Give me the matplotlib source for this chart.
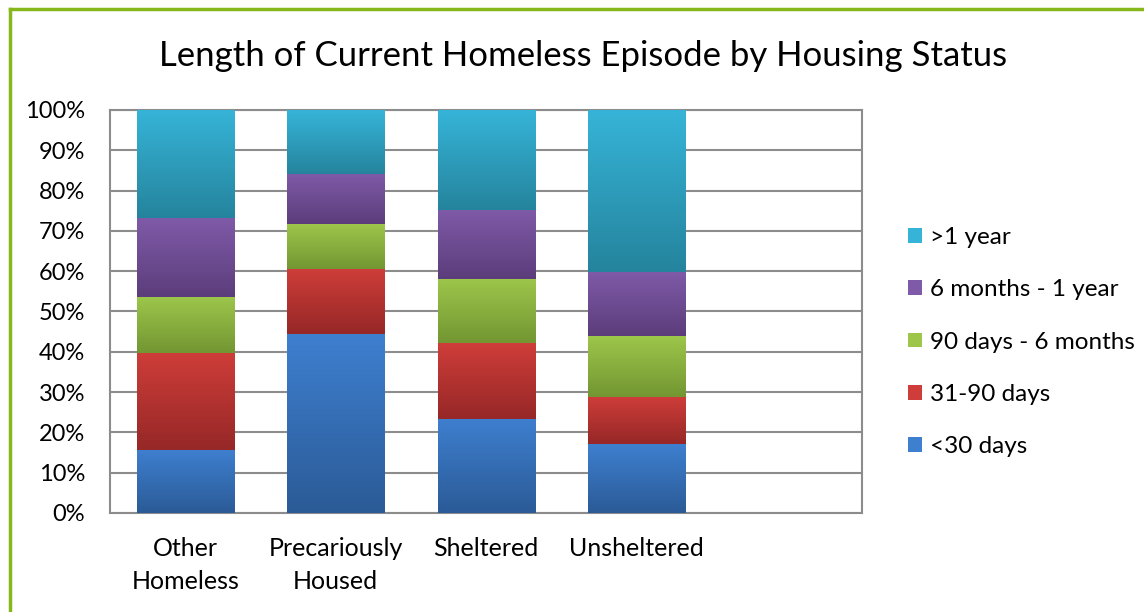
import numpy as np
import matplotlib.pyplot as plt
from matplotlib.lines import Line2D
from matplotlib.colors import to_rgb

plt.rcParams['font.family'] = ['Lato', 'DejaVu Sans']

categories = ["Other\nHomeless", "Precariously\nHoused", "Sheltered", "Unsheltered"]
series_names = ["<30 days", "31-90 days", "90 days - 6 months", "6 months - 1 year", ">1 year"]
lt30 = [15.7, 44.3, 23.4, 17.0]
d31_90 = [24.1, 16.2, 18.8, 11.7]
d90_6m = [13.9, 11.1, 15.9, 15.1]
m6_1y = [19.5, 12.6, 17.2, 16.0]
gt1y = [26.8, 15.8, 24.7, 40.2]
series = [lt30, d31_90, d90_6m, m6_1y, gt1y]

# (top colour, bottom colour) for the Excel-style gradient
colors = [("#3E7FCF", "#2B5B97"),
          ("#CE3D39", "#962827"),
          ("#9DC64B", "#739632"),
          ("#7F5AA8", "#5C3D7B"),
          ("#36B4D8", "#25849D")]

fig = plt.figure(figsize=(11.44, 6.12), dpi=100)
ax = fig.add_axes([0.0962, 0.1618, 0.6573, 0.6585])

x = np.arange(len(categories))
bottom = np.zeros(len(categories))
handles = []
for vals, name, (ctop, cbot) in zip(series, series_names, colors):
    bars = ax.bar(x, vals, width=0.645, bottom=bottom, color=ctop,
                  edgecolor='none', zorder=3, label=name)
    grad = np.linspace(to_rgb(cbot), to_rgb(ctop), 64).reshape(64, 1, 3)
    for p in bars.patches:
        bx, by = p.get_x(), p.get_y()
        im = ax.imshow(grad, extent=[bx, bx + p.get_width(), by, by + p.get_height()],
                       origin='lower', aspect='auto', zorder=4, interpolation='bilinear')
        im.set_clip_path(p)
    handles.append(bars)
    bottom += np.array(vals)

ax.set_xlim(-0.5, 4.5)
ax.set_ylim(0, 100)
ax.set_yticks(np.arange(0, 101, 10))
ax.set_yticklabels([f"{v}%" for v in range(0, 101, 10)], fontsize=17)
ax.set_xticks(x)
ax.set_xticklabels(categories, fontsize=18, linespacing=1.55)
ax.tick_params(axis='x', length=0, pad=17)
ax.tick_params(axis='y', length=0, pad=18)
ax.grid(axis='y', color='#8C8C8C', linewidth=1.5, zorder=0)
ax.set_axisbelow(True)
for s in ax.spines.values():
    s.set_color('#8C8C8C')
    s.set_linewidth(1.5)

fig.text(0.51, 0.908, "Length of Current Homeless Episode by Housing Status",
         ha='center', va='center', fontsize=25)

ax.legend(handles[::-1], series_names[::-1], loc='center left',
          bbox_to_anchor=(0.775, 0.441), bbox_transform=fig.transFigure,
          frameon=False, fontsize=17.5, labelspacing=1.29, handlelength=0.55,
          handleheight=0.55, handletextpad=0.35)

# green frame around the chart
fig.add_artist(Line2D([0.0087, 1.0], [0.9853, 0.9853], color='#86B81C', linewidth=2.5))
fig.add_artist(Line2D([0.0087, 0.0087], [0.0, 0.9853], color='#86B81C', linewidth=2.5))

fig.savefig("out.png", dpi=100)
